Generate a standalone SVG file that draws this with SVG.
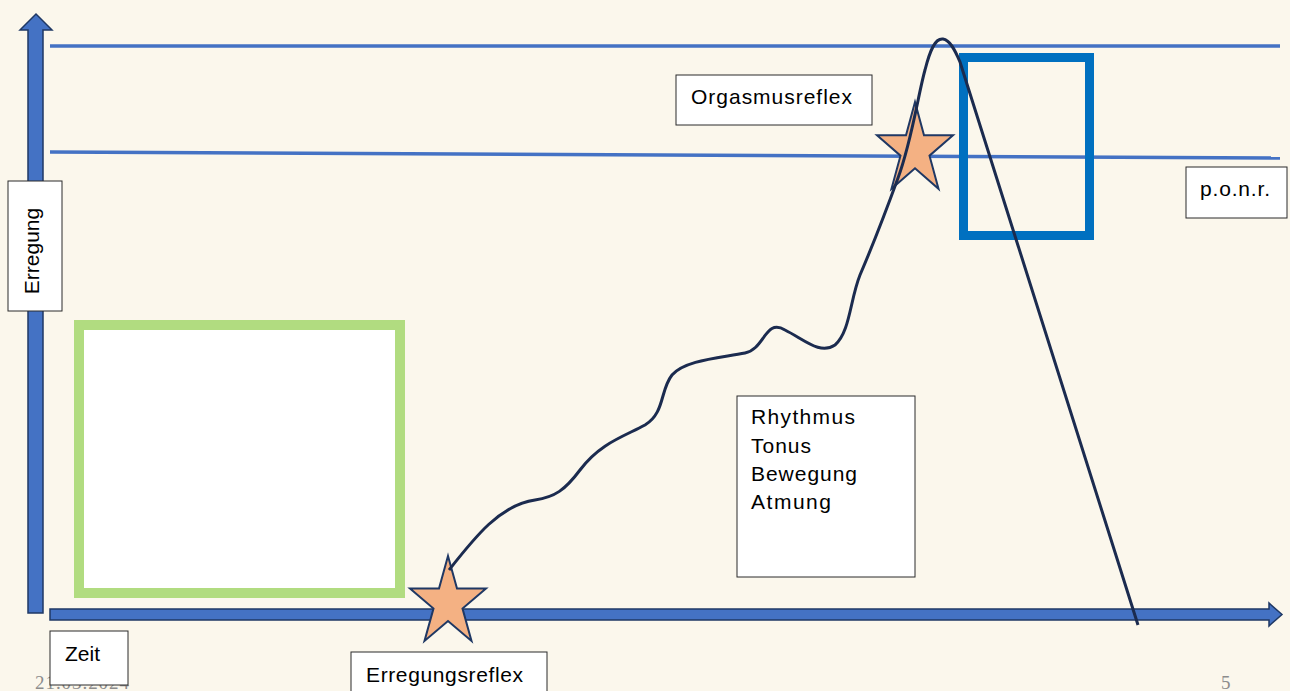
<svg xmlns="http://www.w3.org/2000/svg" width="1290" height="691" viewBox="0 0 1290 691">
<style>
.lbl{fill:#fff;stroke:#2b2b2b;stroke-width:1}
.t{font-family:"Liberation Sans","Open Sans",sans-serif;font-size:21px;fill:#000}
.guide{stroke:#4472C4;stroke-width:3.5;fill:none}
.axis{fill:#4472C4;stroke:#1F3864;stroke-width:1.5}
.star{fill:#F4B183;stroke:#1F3864;stroke-width:2;stroke-linejoin:miter}
.foot{font-family:"Liberation Serif",serif;font-size:19px;fill:#8C8C8C}
</style>
<rect x="0" y="0" width="1290" height="691" fill="#FBF7EC"/>
<g id="guides">
<line class="guide" x1="50" y1="46" x2="1280" y2="46"/>
<line class="guide" x1="50" y1="152" x2="1280" y2="158"/>
</g>
<g id="y-axis"><path class="axis" d="M28,613 L28,30 L20,30 L36,14 L52,30 L43,30 L43,613 Z"/></g>
<g id="x-axis"><path class="axis" d="M50,609 L1269,609 L1269,603 L1282,614.5 L1269,626 L1269,620 L50,620 Z"/></g>
<g id="green-box"><rect x="79" y="325" width="321" height="268" fill="#fff" stroke="#B1DC80" stroke-width="10"/></g>
<g id="factors">
<rect class="lbl" x="737" y="396" width="178" height="181"/>
<text class="t" x="751" y="424" textLength="104">Rhythmus</text>
<text class="t" x="751" y="453" textLength="60">Tonus</text>
<text class="t" x="751" y="481" textLength="106">Bewegung</text>
<text class="t" x="751" y="509" textLength="80">Atmung</text>
</g>
<g id="ponr-box"><rect x="963.5" y="57.5" width="126" height="178" fill="none" stroke="#0070C0" stroke-width="9"/></g>
<g id="star-erregungsreflex"><path class="star" d="M448,556 L457,588.5 L486,588.5 L462.5,608.5 L471.5,641 L448,621 L424.5,641 L433.5,608.5 L410,588.5 L439,588.5 Z"/></g>
<g id="star-orgasmusreflex"><path class="star" d="M915,102 L924,135.2 L953,135.2 L929.5,155.7 L938.5,188.8 L915,168.3 L891.5,188.8 L900.5,155.7 L877,135.2 L906,135.2 Z"/></g>
<g id="connectors">
<path d="M449,570 C475,537 500,505 535,500 C555,497 565,490 580,470 C600,443 625,436 645,425 C665,413 660,390 672,375 C685,360 720,358 745,353 C765,349 765,318 785,330 C805,340 820,355 835,345 C850,332 850,300 860,275 C875,240 890,200 898,178 C912,140 918,95 925,70 C930,50 935,38 943,39 C950,40 955,50 960,62 L1138,625" fill="none" stroke="#1B2B4F" stroke-width="3" stroke-linejoin="round"/>
</g>
<text class="foot" x="35" y="689" textLength="94">21.03.2024</text>
<text class="foot" x="1221" y="689">5</text>
<g id="label-erregung">
<rect class="lbl" x="8" y="181" width="54" height="130"/>
<text class="t" transform="translate(39,251) rotate(-90)" text-anchor="middle">Erregung</text>
</g>
<g id="label-zeit">
<rect class="lbl" x="50" y="631" width="78" height="54"/>
<text class="t" x="65" y="661">Zeit</text>
</g>
<g id="label-erregungsreflex">
<rect class="lbl" x="351" y="652" width="196" height="45"/>
<text class="t" x="366" y="682" textLength="157">Erregungsreflex</text>
</g>
<g id="label-orgasmusreflex">
<rect class="lbl" x="676" y="75" width="196" height="50"/>
<text class="t" x="691" y="104" textLength="161">Orgasmusreflex</text>
</g>
<g id="label-ponr">
<rect class="lbl" x="1186" y="167" width="101" height="51"/>
<text class="t" x="1200" y="196" textLength="70">p.o.n.r.</text>
</g>
</svg>
